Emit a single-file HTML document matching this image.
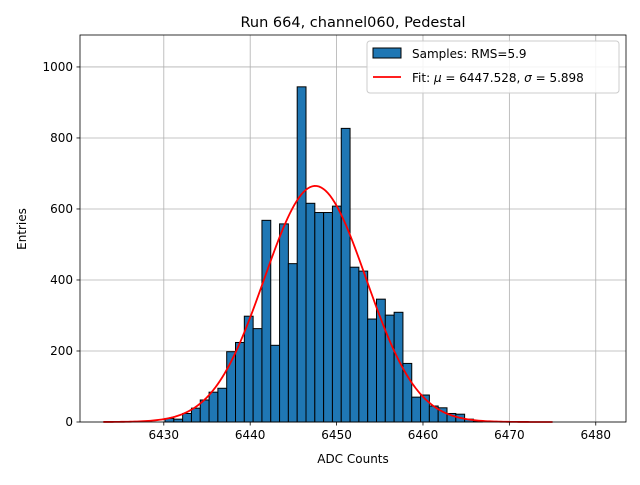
<!DOCTYPE html>
<html><head><meta charset="utf-8"><style>
body{margin:0;background:#fff;font-family:"Liberation Sans","DejaVu Sans",sans-serif}
svg text{font-family:"DejaVu Sans","Liberation Sans",sans-serif}
</style></head><body>
<svg id="chart" width="640" height="480">
<rect width="640" height="480" fill="#fff"/>
<g id="grid"></g><g id="bars"></g><g id="curve"></g><g id="axes"></g>
<text x="353" y="27" text-anchor="middle" font-size="14.5">Run 664, channel060, Pedestal</text>
<text x="353" y="463" text-anchor="middle" font-size="12">ADC Counts</text>
<text transform="translate(26,229) rotate(-90)" text-anchor="middle" font-size="12">Entries</text>
<g>
<rect x="367" y="41" width="252" height="52" rx="3" fill="#fff" fill-opacity="0.85" stroke="#ccc"/>
<rect x="373" y="48" width="28" height="10" fill="#1f77b4" stroke="#000"/>
<text x="412" y="58" font-size="12">Samples: RMS=5.9</text>
<line x1="373" y1="77" x2="401" y2="77" stroke="red" stroke-width="1.8"/>
<text x="412" y="82" font-size="12">Fit: <tspan font-style="italic">μ</tspan> = 6447.528, <tspan font-style="italic">σ</tspan> = 5.898</text>
</g>
</svg>
<script>
const binStart = 6423;
const binWidth = 1.02;
const firstBin = 7;
const counts = [10,8,24,39,62,84,95,198,224,298,263,568,216,558,446,944,616,590,590,608,827,436,425,290,346,301,309,165,70,76,45,40,24,22,8,3];
const xTicks = [6430,6440,6450,6460,6470,6480];
const yTicks = [0,200,400,600,800,1000];
const fitMu = 6447.528, fitSigma = 5.898, fitPeak = 665;
const fitRange = [6423, 6475];

const L=80,R=626,T=35,B=422, xmin=6420.3,xmax=6483.5,ymax=1090;
const X=v=>L+(v-xmin)/(xmax-xmin)*(R-L);
const Y=v=>B-v/ymax*(B-T);
const NS='http://www.w3.org/2000/svg';
function mk(tag,attrs,parent){const e=document.createElementNS(NS,tag);for(const k in attrs)e.setAttribute(k,attrs[k]);parent.appendChild(e);return e;}
const grid=document.getElementById('grid'),bars=document.getElementById('bars'),curve=document.getElementById('curve'),axes=document.getElementById('axes');
xTicks.forEach(t=>{
  const g=mk('line',{x1:X(t),x2:X(t),y1:T,y2:B,stroke:'#b0b0b0','stroke-width':0.8},grid);
  
  
  mk('line',{x1:X(t),x2:X(t),y1:B,y2:B+3.5,stroke:'#000','stroke-width':0.8},axes);
  const tx=mk('text',{x:X(t),y:B+17,'text-anchor':'middle','font-size':12},axes);
  tx.textContent=t;
  
  
});
yTicks.forEach(t=>{
  const g=mk('line',{x1:L,x2:R,y1:Y(t),y2:Y(t),stroke:'#b0b0b0','stroke-width':0.8},grid);
  
  
  mk('line',{x1:L-3.5,x2:L,y1:Y(t),y2:Y(t),stroke:'#000','stroke-width':0.8},axes);
  const tx=mk('text',{x:L-7,y:Y(t)+4,'text-anchor':'end','font-size':12},axes);
  tx.textContent=t;
  
  
});
counts.forEach((c,i)=>{
  const a=binStart+(firstBin+i)*binWidth, b=a+binWidth;
  const r=mk('rect',{x:X(a),y:Y(c),width:X(b)-X(a),height:Y(0)-Y(c),fill:'#1f77b4',stroke:'#000','stroke-width':1},bars);
  
  
});
let d='';
for(let i=0;i<=200;i++){const v=fitRange[0]+(fitRange[1]-fitRange[0])*i/200;const y=fitPeak*Math.exp(-0.5*((v-fitMu)/fitSigma)**2);d+=(i?'L':'M')+X(v).toFixed(2)+','+Y(y).toFixed(2);}
const p=mk('path',{d:d,fill:'none',stroke:'red','stroke-width':1.8},curve);


const fr=mk('rect',{x:L,y:T,width:R-L,height:B-T,fill:'none',stroke:'#000','stroke-width':0.8},axes);


</script>
</body></html>
